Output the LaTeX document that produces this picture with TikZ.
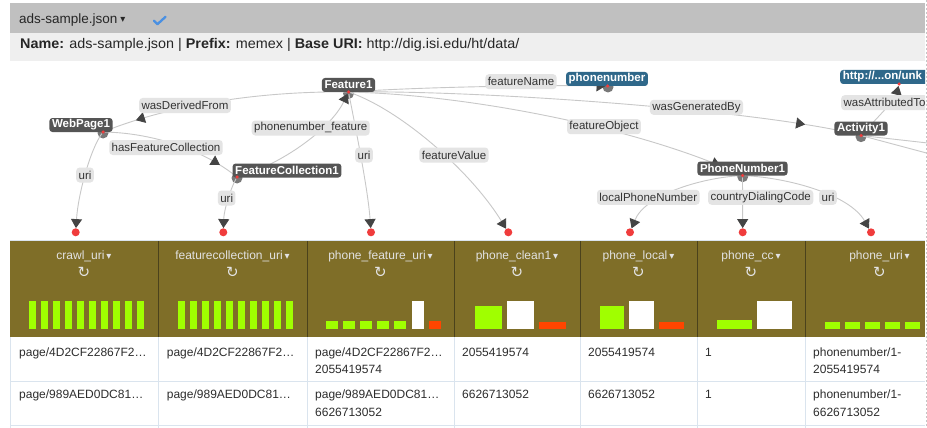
\documentclass[tikz,border=0pt]{standalone}
\usepackage{fontspec}
\setmainfont{Liberation Sans}
\newfontfamily\symfont{DejaVu Sans}
\usetikzlibrary{arrows.meta,decorations.markings}
\pgfdeclarelayer{bg}
\pgfdeclarelayer{edgelayer}
\pgfsetlayers{bg,edgelayer,main}
\definecolor{barGray}{RGB}{192,192,192}
\definecolor{barLight}{RGB}{239,239,239}
\definecolor{hdrOlive}{RGB}{127,110,40}
\definecolor{sepOlive}{RGB}{75,66,28}
\definecolor{nodeGray}{RGB}{85,85,85}
\definecolor{arrowGray}{RGB}{68,68,68}
\definecolor{nodeBlue}{RGB}{47,104,138}
\definecolor{edgeGray}{RGB}{200,200,200}
\definecolor{lblGray}{RGB}{228,228,228}
\definecolor{lblText}{RGB}{51,51,51}
\definecolor{dotRed}{RGB}{240,60,60}
\definecolor{haloGray}{RGB}{120,120,120}
\definecolor{barGreen}{RGB}{160,255,0}
\definecolor{barRed}{RGB}{255,69,0}
\definecolor{cellLine}{RGB}{218,228,238}
\definecolor{checkBlue}{RGB}{74,144,226}
\definecolor{hdrText}{RGB}{226,226,226}
\definecolor{cellText}{RGB}{45,45,45}
\newcommand{\fsz}[1]{\fontsize{#1}{#1}\selectfont}
\newcommand{\caretglyph}{{\symfont\fsz{10}\raisebox{0.5pt}{▾}}}
\tikzset{
  gnode/.style={fill=nodeGray, text=white, rounded corners=3pt, inner xsep=2.6pt, inner ysep=0pt, minimum height=14pt, font=\fsz{11.5}\bfseries},
  bnode/.style={gnode, fill=nodeBlue},
  elabel/.style={fill=lblGray, text=lblText, rounded corners=3.5pt, inner xsep=2.4pt, inner ysep=0pt, minimum height=15pt, font=\fsz{11.5}},
  link/.style={draw=edgeGray, line width=0.9pt},
  arrowmid/.style={postaction={decorate, decoration={markings, mark=at position #1 with {\arrow{Triangle[width=11pt,length=9pt,color=arrowGray]}}}}},
  linkend/.style={link, -{Triangle[width=11pt,length=9pt,color=arrowGray]}},
  ndot/.style={circle, fill=dotRed, inner sep=0pt, minimum size=3.5pt},
  halo/.style={circle, fill=haloGray, inner sep=0pt, minimum size=11pt},
  tdot/.style={circle, fill=dotRed, inner sep=0pt, minimum size=8pt},
  colhead/.style={text=hdrText, font=\fsz{12}, anchor=base, inner sep=0pt},
  refresh/.style={text=hdrText, font=\symfont\fsz{15}, inner sep=0pt},
  cell/.style={text=cellText, font=\fsz{12}, anchor=base west, inner sep=0pt, align=left},
  plain/.style={anchor=base west, inner sep=0pt, text=black!85},
}
\begin{document}
\begin{tikzpicture}[x=1pt,y=-1pt]
\useasboundingbox (0,0) rectangle (927,428);
% ---------- backgrounds ----------
\begin{pgfonlayer}{bg}
  \fill[white] (0,0) rectangle (927,428);
  \fill[barGray] (10,3) rectangle (925,33);
  \fill[barLight] (10,33) rectangle (925,61.5);
  \fill[hdrOlive] (10,241) rectangle (925,337);
  \draw[cellLine, line width=1pt] (10,240.5) -- (925,240.5);
  \foreach \xx in {158,307,454,580,697,805}
    \draw[sepOlive, line width=0.9pt] (\xx,241) -- (\xx,337);
  \foreach \xx in {10,158,307,454,580,697,805}
    \draw[cellLine, line width=1pt] (\xx,337) -- (\xx,428);
  \draw[cellLine, line width=1pt] (10,381) -- (925,381);
  \draw[cellLine, line width=1pt] (10,425.5) -- (925,425.5);
  % histogram bars
  \foreach \i in {0,...,9} {
    \fill[barGreen] (29+12*\i,300.7) rectangle (36+12*\i,329);
    \fill[barGreen] (177.7+12*\i,300.7) rectangle (184.7+12*\i,329);
  }
  \foreach \i in {0,...,4}
    \fill[barGreen] (326+17*\i,321) rectangle (338+17*\i,329);
  \fill[white] (412,300.7) rectangle (424,329);
  \fill[barRed] (429,321) rectangle (441,329);
  \fill[barGreen] (475,306) rectangle (502,329);
  \fill[white] (507,300.7) rectangle (534,329);
  \fill[barRed] (539,321.7) rectangle (566,329);
  \fill[barGreen] (600,306) rectangle (624,329);
  \fill[white] (629,300.7) rectangle (654,329);
  \fill[barRed] (659,322) rectangle (684,329);
  \fill[barGreen] (717,320) rectangle (752,329);
  \fill[white] (757,300.7) rectangle (792,329);
  \foreach \i in {0,...,4}
    \fill[barGreen] (825+20*\i,321.7) rectangle (840+20*\i,329);
  \draw[gray!45, dash pattern=on 2pt off 2pt, line width=0.8pt] (926,0) -- (926,428);
  % check mark icon
  \draw[checkBlue, line width=2.3pt, line cap=round, line join=round] (154,20.8) -- (157.5,24.2) -- (165.5,16.8);
\end{pgfonlayer}
% ---------- top bars ----------
\node[plain, font=\fsz{13.5}] (title) at (19,23.3) {ads-sample.json};
\node[anchor=base west, inner sep=0pt, text=black!85] (titlecaret) at ([xshift=2.5pt]title.base east) {\caretglyph};
\node[plain, font=\fsz{14}] (info) at (20,48.3) {\scalebox{1.027}[1]{\textbf{Name:} ads-sample.json | \textbf{Prefix:} memex | \textbf{Base URI:} http://dig.isi.edu/ht/data/}};
% ---------- table header ----------
\node[colhead] (h1) at (84,259.5) {crawl\_uri\hspace{2pt}\caretglyph};
\node[colhead] (h2) at (232.5,259.5) {featurecollection\_uri\hspace{2pt}\caretglyph};
\node[colhead] (h3) at (380.5,259.5) {phone\_feature\_uri\hspace{2pt}\caretglyph};
\node[colhead] (h4) at (517,259.5) {phone\_clean1\hspace{2pt}\caretglyph};
\node[colhead] (h5) at (638.5,259.5) {phone\_local\hspace{2pt}\caretglyph};
\node[colhead] (h6) at (751,259.5) {phone\_cc\hspace{2pt}\caretglyph};
\node[colhead] (h7) at (879.5,259.5) {phone\_uri\hspace{2pt}\caretglyph};
\node[refresh] (r1) at (84,272.7) {↻};
\node[refresh] (r2) at (232.5,272.7) {↻};
\node[refresh] (r3) at (380.5,272.7) {↻};
\node[refresh] (r4) at (517,272.7) {↻};
\node[refresh] (r5) at (638.5,272.7) {↻};
\node[refresh] (r6) at (751,272.7) {↻};
\node[refresh] (r7) at (879.5,272.7) {↻};
% ---------- table cells ----------
\node[cell] (c11) at (19,356) {page/4D2CF22867F2…};
\node[cell] (c12) at (166.7,356) {page/4D2CF22867F2…};
\node[cell] (c13) at (315,356) {page/4D2CF22867F2…};
\node[cell] (c13b) at (315,373.3) {2055419574};
\node[cell] (c14) at (462,356) {2055419574};
\node[cell] (c15) at (588,356) {2055419574};
\node[cell] (c16) at (705,356) {1};
\node[cell] (c17) at (813,356) {phonenumber/1-};
\node[cell] (c17b) at (813,373.3) {2055419574};
\node[cell] (c21) at (19,398.3) {page/989AED0DC81…};
\node[cell] (c22) at (166.7,398.3) {page/989AED0DC81…};
\node[cell] (c23) at (315,398.3) {page/989AED0DC81…};
\node[cell] (c23b) at (315,416) {6626713052};
\node[cell] (c24) at (462,398.3) {6626713052};
\node[cell] (c25) at (588,398.3) {6626713052};
\node[cell] (c26) at (705,398.3) {1};
\node[cell] (c27) at (813,398.3) {phonenumber/1-};
\node[cell] (c27b) at (813,416) {6626713052};
% ---------- graph ----------
\begin{scope}
\clip (0,62) rectangle (925,240);
\node[gnode] (feature) at (348.5,85) {Feature1};
\node[gnode] (webpage) at (81,125) {WebPage1};
\node[gnode] (fcoll) at (287,170.5) {FeatureCollection1};
\node[bnode] (phonenum) at (607,79) {phonenumber};
\node[bnode, anchor=west, text width=112pt, align=left] (httpnode) at (840,77) {http://...on/unk};
\node[gnode] (activity) at (861,128.5) {Activity1};
\node[gnode] (pnumber) at (742.5,168.5) {PhoneNumber1};
% dots on nodes
\node[ndot] (featureD) at (348.5,92) {};
\node[ndot] (webpageD) at (103,132) {};
\node[ndot] (fcollD) at (237,177) {};
\node[ndot] (phonenumD) at (607.5,86) {};
\node[ndot] (httpD) at (899,84) {};
\node[ndot] (activityD) at (861,135.5) {};
\node[ndot] (pnumberD) at (742.5,175.5) {};
% column targets
\node[tdot] (t1) at (75.7,232.3) {};
\node[tdot] (t2) at (223.3,232.3) {};
\node[tdot] (t3) at (371,232.3) {};
\node[tdot] (t4) at (508.3,232.3) {};
\node[tdot] (t5) at (630,232.3) {};
\node[tdot] (t6) at (742.7,232.3) {};
\node[tdot] (t7) at (871,232.3) {};
\coordinate (offA) at (990,150);
\coordinate (offB) at (990,170);
\begin{pgfonlayer}{edgelayer}
  \node[halo] (featureH) at (348.5,93.5) {};
  \node[halo] (webpageH) at (103,133) {};
  \node[halo] (fcollH) at (237,178) {};
  \node[halo] (phonenumH) at (608,87) {};
  \node[halo] (activityH) at (861,136.7) {};
  \node[halo] (pnumberH) at (742.7,176.7) {};
  \draw[link, arrowmid=-33pt] (featureD) .. controls (260,91) and (170,105) .. (webpageD);
  \draw[link, arrowmid=-19pt] (webpageD) .. controls (150,133) and (200,148) .. (fcollD);
  \draw[linkend] (fcollD) .. controls (280,165) and (330,130) .. (featureD);
  \draw[linkend] (webpageD) .. controls (90,150) and (78,195) .. (t1);
  \draw[linkend] (fcollD) .. controls (230,190) and (224,210) .. (t2);
  \draw[linkend] (featureD) .. controls (356,130) and (368,190) .. (t3);
  \draw[linkend] (featureD) .. controls (400,110) and (470,170) .. (t4);
  \draw[linkend] (featureD) .. controls (420,87) and (540,85) .. (phonenumD);
  \draw[link, arrowmid=-55pt] (featureD) .. controls (480,90) and (760,110) .. (activityD);
  \draw[link, arrowmid=-22pt] (featureD) .. controls (470,95) and (640,128) .. (pnumberD);
  \draw[linkend] (activityD) .. controls (875,120) and (895,100) .. (httpD);
  \draw[link] (activityD) -- (offA);
  \draw[link] (activityD) -- (offB);
  \draw[linkend] (pnumberD) .. controls (700,178) and (645,195) .. (t5);
  \draw[linkend] (pnumberD) -- (t6);
  \draw[linkend] (pnumberD) .. controls (790,178) and (850,195) .. (t7);
\end{pgfonlayer}
% edge labels
\node[elabel] (lDerived) at (185,105.5) {wasDerivedFrom};
\node[elabel] (lHasFC) at (166,147.5) {hasFeatureCollection};
\node[elabel] (lPNF) at (310.7,128) {phonenumber\_feature};
\node[elabel] (lUri1) at (85,175) {uri};
\node[elabel] (lUri2) at (226.7,198) {uri};
\node[elabel] (lUri3) at (364,155) {uri};
\node[elabel] (lFV) at (454,155) {featureValue};
\node[elabel] (lFN) at (521,81.7) {featureName};
\node[elabel] (lGen) at (696.5,107.3) {wasGeneratedBy};
\node[elabel] (lFO) at (604,126.7) {featureObject};
\node[elabel, anchor=west] (lAttr) at (841,102.7) {wasAttributedTo};
\node[elabel] (lLocal) at (648.3,197.3) {localPhoneNumber};
\node[elabel] (lCDC) at (760.7,197.3) {countryDialingCode};
\node[elabel] (lUri4) at (828,197.3) {uri};
\end{scope}
\end{tikzpicture}
\end{document}
